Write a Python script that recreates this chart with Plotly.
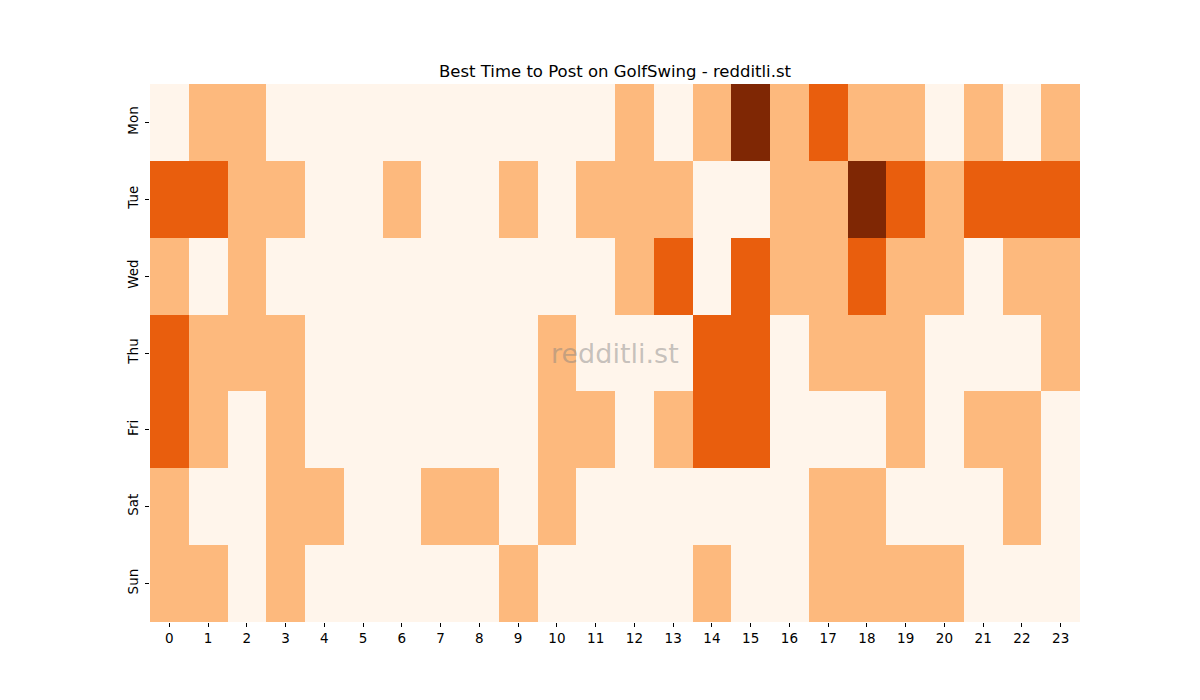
import plotly.graph_objects as go

days = ["Mon", "Tue", "Wed", "Thu", "Fri", "Sat", "Sun"]
hours = list(range(24))

mon = [0,1,1,0,0,0,0,0,0,0,0,0,1,0,1,3,1,2,1,1,0,1,0,1]
tue = [2,2,1,1,0,0,1,0,0,1,0,1,1,1,0,0,1,1,3,2,1,2,2,2]
wed = [1,0,1,0,0,0,0,0,0,0,0,0,1,2,0,2,1,1,2,1,1,0,1,1]
thu = [2,1,1,1,0,0,0,0,0,0,1,0,0,0,2,2,0,1,1,1,0,0,0,1]
fri = [2,1,0,1,0,0,0,0,0,0,1,1,0,1,2,2,0,0,0,1,0,1,1,0]
sat = [1,0,0,1,1,0,0,1,1,0,1,0,0,0,0,0,0,1,1,0,0,0,1,0]
sun = [1,1,0,1,0,0,0,0,0,1,0,0,0,0,1,0,0,1,1,1,1,0,0,0]

z = [mon, tue, wed, thu, fri, sat, sun]

colors = ["#fff5eb", "#fdb97d", "#e95e0d", "#7f2704"]
cs = []
for i, c in enumerate(colors):
    cs.append([i / 4, c])
    cs.append([(i + 1) / 4, c])

fig = go.Figure(go.Heatmap(
    z=z, x=hours, y=days, colorscale=cs, zmin=-0.5, zmax=3.5,
    showscale=False, xgap=0, ygap=0,
))

fig.update_layout(
    width=1200, height=700,
    margin=dict(l=142, r=128, t=76, b=86),
    paper_bgcolor="white", plot_bgcolor="white",
    font=dict(family="DejaVu Sans", size=13.5, color="black"),
    title=dict(text="Best Time to Post on GolfSwing - redditli.st",
               x=0.5, xanchor="center", xref="paper",
               y=1, yref="paper", yanchor="bottom",
               pad=dict(b=7),
               font=dict(family="DejaVu Sans", size=16.5, color="black")),
    xaxis=dict(tickmode="array", tickvals=hours, ticktext=[str(h) for h in hours],
               ticks="outside", ticklen=4, tickcolor="black", showgrid=False,
               zeroline=False, showline=False, range=[-0.5, 23.5]),
    yaxis=dict(autorange="reversed", ticks="outside", ticklen=4, tickcolor="black",
               tickangle=-90, showgrid=False, zeroline=False, showline=False,
               ticklabelstandoff=2),
    annotations=[dict(text="redditli.st", x=0.5, y=0.5, xref="paper", yref="paper",
                      showarrow=False,
                      font=dict(family="DejaVu Sans", size=27, color="rgba(128,128,128,0.45)"))],
)

fig.write_html("out.html")
